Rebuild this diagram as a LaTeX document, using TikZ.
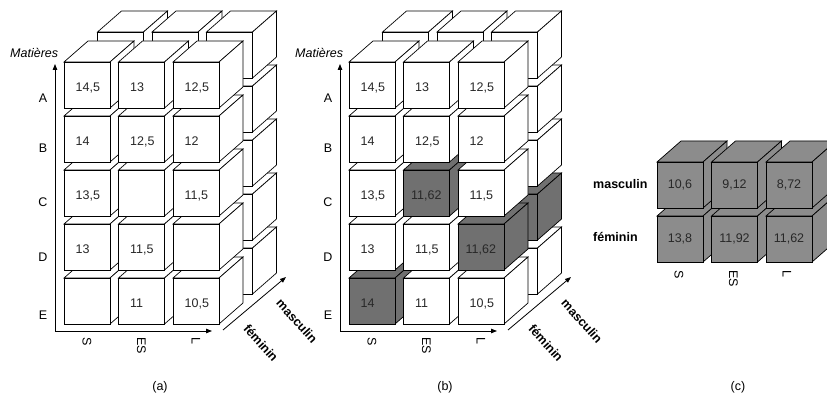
\documentclass[tikz,border=0pt]{standalone}
\usepackage{fontspec}
\setmainfont{Liberation Sans}
\usetikzlibrary{arrows.meta}

\definecolor{cubegrayb}{RGB}{112,112,112}
\definecolor{cubegrayc}{RGB}{140,140,140}
\definecolor{celltext}{RGB}{40,40,40}

% One cube: #1,#2 = top-left corner of the front face, #3 = fill colour
\newcommand\drawcube[3]{%
  \filldraw[face,fill=#3] (#1,#2) -- ++(24,-21) -- ++(46,0) -- ++(-24,21) -- cycle;
  \filldraw[face,fill=#3] (#1+46,#2) -- ++(24,-21) -- ++(0,46) -- ++(-24,21) -- cycle;
  \filldraw[face,fill=#3] (#1,#2) rectangle ++(46,46);
}

% Axes and their labels, shared by the two large panels
\newcommand\cubeaxes[1]{%
  \coordinate (#1-o) at (55,331);
  \coordinate (#1-y) at (55,64);
  \coordinate (#1-x) at (212,331);
  \coordinate (#1-d0) at (223,330);
  \coordinate (#1-d1) at (286,277);
  \draw[axis] (#1-o) -- (#1-y);
  \draw[axis] (#1-o) -- (#1-x);
  \draw[axis] (#1-d0) -- (#1-d1);
  \node[lab,font=\fontsize{12.5}{15}\selectfont\itshape,anchor=west] (#1-mat) at (10,53) {Matières};
  \node[lab] (#1-A) at (43,98) {A};
  \node[lab] (#1-B) at (43,148) {B};
  \node[lab] (#1-C) at (43,202) {C};
  \node[lab] (#1-D) at (43,257) {D};
  \node[lab] (#1-E) at (43,315) {E};
  \node[lab,rotate=-90,anchor=west] (#1-S) at (87,337) {S};
  \node[lab,rotate=-90,anchor=west] (#1-ES) at (141.5,337) {ES};
  \node[lab,rotate=-90,anchor=west] (#1-L) at (196,337) {L};
  \node[axislab,rotate=-48] (#1-fem) at (261,343) {féminin};
  \node[axislab,rotate=-48] (#1-mas) at (297,321) {masculin};
}

\begin{document}
\begin{tikzpicture}[x=1pt,y=-1pt,
  face/.style={draw=black,line width=0.7pt},
  lab/.style={inner sep=0pt,font=\fontsize{12.5}{15}\selectfont},
  val/.style={inner sep=0pt,text=celltext,font=\fontsize{12.5}{15}\selectfont},
  axislab/.style={inner sep=0pt,font=\fontsize{12.5}{15}\selectfont\bfseries},
  axis/.style={line width=0.8pt,-{Triangle[length=6pt,width=4.5pt]}},
]
\useasboundingbox (0,0) rectangle (827,395);
\clip (0,0) rectangle (827,395);
\fill[white] (0,0) rectangle (827,395);

% ---------- panel (a) ----------
\foreach \r in {4,3,2,1,0}{\foreach \c in {0,1,2}{%
  \drawcube{97.5+54.5*\c}{32+54*\r}{white}}}
\foreach \r in {4,3,2,1,0}{\foreach \c in {0,1,2}{%
  \drawcube{64+54.5*\c}{62+54*\r}{white}}}
\cubeaxes{pa}
\node[val,anchor=base west] (pa-v11) at (75.5,91.5) {14,5};
\node[val,anchor=base west] (pa-v12) at (130,91.5) {13};
\node[val,anchor=base west] (pa-v13) at (184.5,91.5) {12,5};
\node[val,anchor=base west] (pa-v21) at (75.5,145.5) {14};
\node[val,anchor=base west] (pa-v22) at (130,145.5) {12,5};
\node[val,anchor=base west] (pa-v23) at (184.5,145.5) {12};
\node[val,anchor=base west] (pa-v31) at (75.5,199.5) {13,5};
\node[val,anchor=base west] (pa-v33) at (184.5,199.5) {11,5};
\node[val,anchor=base west] (pa-v41) at (75.5,253.5) {13};
\node[val,anchor=base west] (pa-v42) at (130,253.5) {11,5};
\node[val,anchor=base west] (pa-v52) at (130,307.5) {11};
\node[val,anchor=base west] (pa-v53) at (184.5,307.5) {10,5};
\node[lab] (cap-a) at (160,387) {(a)};

% ---------- panel (b) ----------
\begin{scope}[xshift=285pt]
\foreach \r in {4,3,2,1,0}{\foreach \c in {0,1,2}{%
  \def\f{white}%
  \ifnum\numexpr 3*\r+\c\relax=11 \def\f{cubegrayb}\fi
  \drawcube{97.5+54.5*\c}{32+54*\r}{\f}}}
\foreach \r in {4,3,2,1,0}{\foreach \c in {0,1,2}{%
  \def\f{white}%
  \ifnum\numexpr 3*\r+\c\relax=7 \def\f{cubegrayb}\fi
  \ifnum\numexpr 3*\r+\c\relax=11 \def\f{cubegrayb}\fi
  \ifnum\numexpr 3*\r+\c\relax=12 \def\f{cubegrayb}\fi
  \drawcube{64+54.5*\c}{62+54*\r}{\f}}}
\cubeaxes{pb}
\node[val,anchor=base west] (pb-v11) at (75.5,91.5) {14,5};
\node[val,anchor=base west] (pb-v12) at (130,91.5) {13};
\node[val,anchor=base west] (pb-v13) at (184.5,91.5) {12,5};
\node[val,anchor=base west] (pb-v21) at (75.5,145.5) {14};
\node[val,anchor=base west] (pb-v22) at (130,145.5) {12,5};
\node[val,anchor=base west] (pb-v23) at (184.5,145.5) {12};
\node[val,anchor=base west] (pb-v31) at (75.5,199.5) {13,5};
\node[val,anchor=base west] (pb-v32) at (126,199.5) {11,62};
\node[val,anchor=base west] (pb-v33) at (184.5,199.5) {11,5};
\node[val,anchor=base west] (pb-v41) at (75.5,253.5) {13};
\node[val,anchor=base west] (pb-v42) at (130,253.5) {11,5};
\node[val,anchor=base west] (pb-v43) at (180.5,253.5) {11,62};
\node[val,anchor=base west] (pb-v51) at (75.5,307.5) {14};
\node[val,anchor=base west] (pb-v52) at (130,307.5) {11};
\node[val,anchor=base west] (pb-v53) at (184.5,307.5) {10,5};
\node[lab] (cap-b) at (160,387) {(b)};
\end{scope}

% ---------- panel (c) ----------
\foreach \r in {1,0}{\foreach \c in {0,1,2}{%
  \drawcube{657+54.5*\c}{162+54*\r}{cubegrayc}}}
\node[val,anchor=base] (pc-v11) at (680,188.5) {10,6};
\node[val,anchor=base] (pc-v12) at (734.5,188.5) {9,12};
\node[val,anchor=base] (pc-v13) at (789,188.5) {8,72};
\node[val,anchor=base] (pc-v21) at (680,242.5) {13,8};
\node[val,anchor=base] (pc-v22) at (734.5,242.5) {11,92};
\node[val,anchor=base] (pc-v23) at (789,242.5) {11,62};
\node[axislab,anchor=base west] (pc-mas) at (593,188.5) {masculin};
\node[axislab,anchor=base west] (pc-fem) at (593,241.5) {féminin};
\node[lab,rotate=-90,anchor=west] (pc-S) at (679,270) {S};
\node[lab,rotate=-90,anchor=west] (pc-ES) at (733.5,270) {ES};
\node[lab,rotate=-90,anchor=west] (pc-L) at (787,270) {L};
\node[lab] (cap-c) at (738,387) {(c)};
\end{tikzpicture}
\end{document}
